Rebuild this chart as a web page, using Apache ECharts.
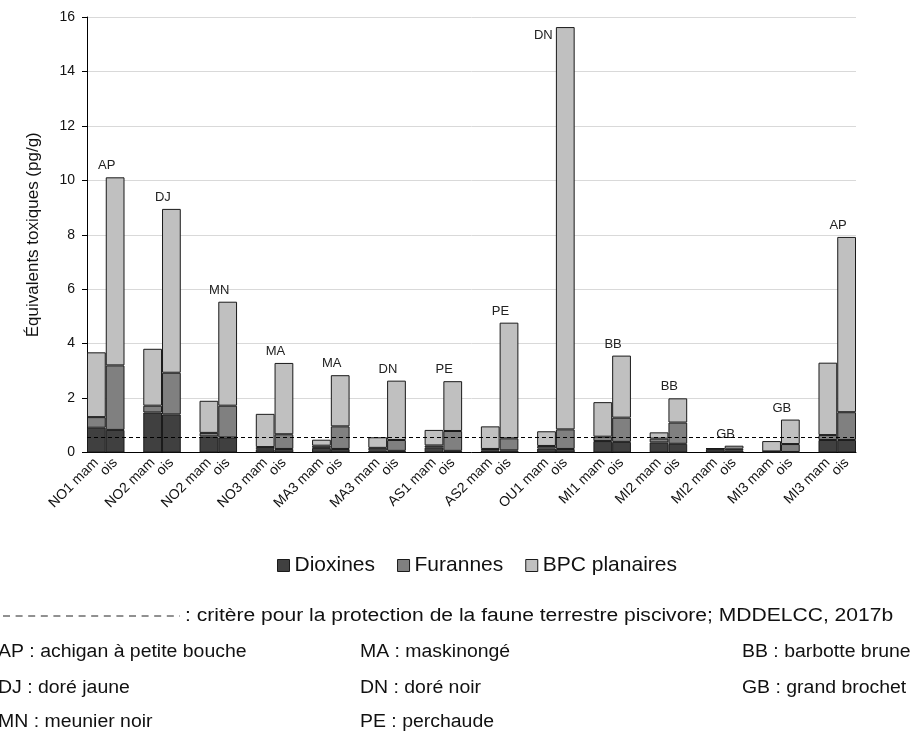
<!DOCTYPE html>
<html><head><meta charset="utf-8">
<script src="https://cdn.jsdelivr.net/npm/echarts@6/dist/echarts.min.js"></script>
<style>html,body{margin:0;padding:0;background:#fff}#c{width:912px;height:733px}</style>
</head><body><div id="c"></div>
<script>
const groups = ['NO1','NO2','NO2','NO3','MA3','MA3','AS1','AS2','OU1','MI1','MI2','MI2','MI3','MI3'];
const species = ['AP','DJ','MN','MA','MA','DN','PE','PE','DN','BB','BB','GB','GB','AP'];
const dioxMam = [0.91,1.47,0.59,0.12,0.17,0.08,0.19,0.08,0.15,0.42,0.37,0.12,0.02,0.46];
const furMam  = [0.39,0.25,0.13,0.08,0.08,0.09,0.07,0.05,0.09,0.16,0.14,0.02,0.02,0.18];
const bpcMam  = [2.38,2.09,1.18,1.22,0.22,0.39,0.57,0.83,0.54,1.27,0.23,0.01,0.38,2.66];
const dioxOis = [0.83,1.40,0.55,0.13,0.13,0.06,0.06,0.08,0.13,0.39,0.32,0.08,0.02,0.46];
const furOis  = [2.37,1.53,1.17,0.54,0.83,0.40,0.73,0.44,0.72,0.89,0.78,0.06,0.29,1.02];
const bpcOis  = [6.91,6.02,3.82,2.62,1.88,2.18,1.83,4.25,14.78,2.28,0.89,0.11,0.90,6.44];
const critere = 0.57;
const yTicks = {min:0, max:16, interval:2};
const seriesNames = ['Dioxines','Furannes','BPC planaires'];
const legendNote = ': critère pour la protection de la faune terrestre piscivore; MDDELCC, 2017b';
const speciesNotes = [
  ['AP : achigan à petite bouche','MA : maskinongé','BB : barbotte brune'],
  ['DJ : doré jaune','DN : doré noir','GB : grand brochet'],
  ['MN : meunier noir','PE : perchaude','']
];

const FONT = '"Liberation Sans", Arial, sans-serif';
const cats = [];
const dD = [], dF = [], dB = [];
groups.forEach((g,i)=>{
  cats.push(g+' mam'); dD.push(dioxMam[i]); dF.push(furMam[i]); dB.push(bpcMam[i]);
  cats.push('ois'); dD.push(dioxOis[i]); dF.push(furOis[i]);
  const lbl = {show:true, formatter: species[i], position:'top', offset:[-8.5,0]};
  if (i === 8) { lbl.position = [-22, 2]; lbl.offset = [0,0]; }
  dB.push({value: bpcOis[i], label: lbl});
  if (i < groups.length-1) { cats.push(''); dD.push('-'); dF.push('-'); dB.push('-'); }
});
const colors = ['#404040','#808080','#c0c0c0'];
function mk(name, data, k){
  return {name, type:'bar', stack:'a', data, barCategoryGap:'0%', barWidth:'100%',
    itemStyle:{color:colors[k], borderColor:'#1a1a1a', borderWidth:1},
    label:{show:false, color:'#222', fontSize:13, fontFamily:FONT},
    emphasis:{disabled:true}, animation:false};
}
const series = [mk(seriesNames[0], dD, 0), mk(seriesNames[1], dF, 1), mk(seriesNames[2], dB, 2)];
series[0].markLine = {silent:true, symbol:'none', label:{show:false},
  lineStyle:{color:'#000', type:[4,3], width:1}, data:[{yAxis: critere}]};

const gfx = [
  {type:'line', shape:{x1:3,y1:616,x2:180,y2:616}, style:{stroke:'#222', lineWidth:1, lineDash:[7,5.6]}},
  {type:'text', x:185, y:616, scaleX:1.17, style:{text:legendNote, font:'18px '+FONT, fill:'#111', textVerticalAlign:'middle'}}
];
const colX = [-2, 360, 742], rowY = [652, 688, 722];
speciesNotes.forEach((row,r)=>row.forEach((t,c)=>{ if(t) gfx.push({type:'text', x:colX[c], y:rowY[r], scaleX:1.08,
  style:{text:t, font:'18px '+FONT, fill:'#111', textVerticalAlign:'middle'}}); }));

const chart = echarts.init(document.getElementById('c'), null, {renderer:'canvas'});
chart.setOption({
  animation:false,
  textStyle:{fontFamily:FONT},
  grid:{left:87, right:56, top:17, bottom:280.5, containLabel:false},
  legend:{data:seriesNames, left:272, top:550, itemWidth:12, itemHeight:12, itemGap:22,
    icon:'rect', textStyle:{fontSize:21, color:'#111', fontFamily:FONT},
    itemStyle:{borderColor:'#1a1a1a', borderWidth:1}},
  xAxis:{type:'category', data:cats, boundaryGap:true,
    axisLine:{lineStyle:{color:'#000', width:1}}, axisTick:{show:false},
    axisLabel:{interval:0, rotate:45, fontSize:14, color:'#111', margin:8, fontFamily:FONT}},
  yAxis:{type:'value', min:yTicks.min, max:yTicks.max, interval:yTicks.interval,
    name:'Équivalents toxiques (pg/g)', nameLocation:'middle', nameGap:45,
    nameTextStyle:{fontSize:17, color:'#111', fontFamily:FONT},
    axisLine:{show:true, lineStyle:{color:'#000'}}, axisTick:{show:true, length:5, lineStyle:{color:'#000'}},
    axisLabel:{fontSize:14, color:'#111', margin:12, fontFamily:FONT},
    splitLine:{lineStyle:{color:'#d9d9d9', width:1}}},
  series,
  graphic: gfx
});
</script></body></html>
